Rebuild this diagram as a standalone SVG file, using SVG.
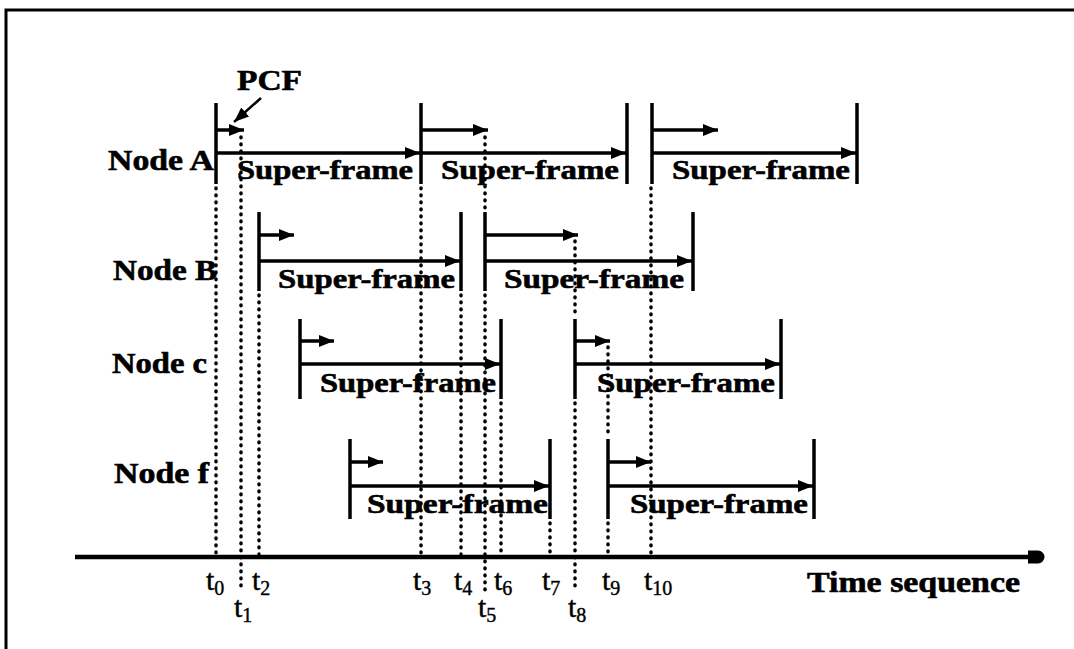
<svg xmlns="http://www.w3.org/2000/svg" width="1074" height="649" viewBox="0 0 1074 649">
<style>
.bg{fill:#fff}
.frame{stroke:#000;stroke-width:3;fill:none}
.bar{stroke:#000;stroke-width:3.5;fill:none}
.arr{stroke:#000;stroke-width:3.5;fill:none;marker-end:url(#ah)}
.dot{stroke:#000;stroke-width:3.5;stroke-linecap:round;stroke-dasharray:0.8 6.2;fill:none}
.lbl{font-family:"Liberation Serif","Times New Roman",serif;font-weight:bold;font-size:29px;fill:#000;stroke:#000;stroke-width:0.6}
.sf{font-family:"Liberation Serif","Times New Roman",serif;font-weight:bold;font-size:28px;fill:#000;stroke:#000;stroke-width:0.6}
.t{font-family:"Liberation Serif","Times New Roman",serif;font-size:30px;fill:#000;stroke:#000;stroke-width:0.4}
.sub{font-size:20px}
</style>
<defs>
<marker id="ah" markerUnits="userSpaceOnUse" markerWidth="15" markerHeight="12" refX="15" refY="6" orient="auto">
<path d="M0,0 L15,6 L0,12 z" fill="#000"/>
</marker>
</defs>
<rect class="bg" x="0" y="0" width="1074" height="649"/>
<g id="border">
<path class="frame" d="M6,649 L6,10 L1074,10"/>
</g>
<g id="connectors">
<line class="dot" x1="216" y1="188" x2="216" y2="554"/>
<line class="dot" x1="241" y1="137" x2="241" y2="588"/>
<line class="dot" x1="259" y1="295" x2="259" y2="554"/>
<line class="dot" x1="421" y1="188" x2="421" y2="554"/>
<line class="dot" x1="461" y1="295" x2="461" y2="554"/>
<line class="dot" x1="485" y1="137" x2="485" y2="209"/>
<line class="dot" x1="485" y1="295" x2="485" y2="590"/>
<line class="dot" x1="501" y1="403" x2="501" y2="554"/>
<line class="dot" x1="550" y1="523" x2="550" y2="554"/>
<line class="dot" x1="575" y1="241" x2="575" y2="315"/>
<line class="dot" x1="575" y1="403" x2="575" y2="590"/>
<line class="dot" x1="608" y1="347" x2="608" y2="435"/>
<line class="dot" x1="608" y1="523" x2="608" y2="554"/>
<line class="dot" x1="651" y1="188" x2="651" y2="554"/>
</g>
<g id="pcf">
<text class="lbl" x="237" y="90" textLength="65" lengthAdjust="spacingAndGlyphs">PCF</text>
<line x1="261" y1="98" x2="234" y2="122" stroke="#000" stroke-width="2.5" marker-end="url(#ah)"/>
</g>
<g id="node-A">
<text class="lbl" x="108" y="170" textLength="106" lengthAdjust="spacingAndGlyphs">Node A</text>
<line class="bar" x1="216" y1="103" x2="216" y2="184"/>
<line class="bar" x1="421" y1="103" x2="421" y2="184"/>
<line class="bar" x1="627" y1="103" x2="627" y2="184"/>
<line class="bar" x1="652" y1="103" x2="652" y2="184"/>
<line class="bar" x1="857" y1="103" x2="857" y2="184"/>
<line class="arr" x1="216" y1="130" x2="244" y2="130"/>
<line class="arr" x1="421" y1="130" x2="488" y2="130"/>
<line class="arr" x1="652" y1="130" x2="718" y2="130"/>
<line class="arr" x1="216" y1="153" x2="420" y2="153"/>
<line class="arr" x1="421" y1="153" x2="626" y2="153"/>
<line class="arr" x1="652" y1="153" x2="856" y2="153"/>
<text class="sf" x="237" y="179" textLength="176" lengthAdjust="spacingAndGlyphs">Super-frame</text>
<text class="sf" x="441" y="179" textLength="178" lengthAdjust="spacingAndGlyphs">Super-frame</text>
<text class="sf" x="672" y="179" textLength="178" lengthAdjust="spacingAndGlyphs">Super-frame</text>
</g>
<g id="node-B">
<text class="lbl" x="113" y="280" textLength="104" lengthAdjust="spacingAndGlyphs">Node B</text>
<line class="bar" x1="259" y1="212" x2="259" y2="291"/>
<line class="bar" x1="461" y1="212" x2="461" y2="291"/>
<line class="bar" x1="485" y1="212" x2="485" y2="291"/>
<line class="bar" x1="693" y1="212" x2="693" y2="291"/>
<line class="arr" x1="259" y1="235" x2="294" y2="235"/>
<line class="arr" x1="485" y1="235" x2="578" y2="235"/>
<line class="arr" x1="259" y1="261" x2="460" y2="261"/>
<line class="arr" x1="485" y1="261" x2="692" y2="261"/>
<text class="sf" x="278" y="288" textLength="177" lengthAdjust="spacingAndGlyphs">Super-frame</text>
<text class="sf" x="504" y="288" textLength="180" lengthAdjust="spacingAndGlyphs">Super-frame</text>
</g>
<g id="node-c">
<text class="lbl" x="112" y="373" textLength="95" lengthAdjust="spacingAndGlyphs">Node c</text>
<line class="bar" x1="300" y1="319" x2="300" y2="399"/>
<line class="bar" x1="501" y1="319" x2="501" y2="399"/>
<line class="bar" x1="575" y1="319" x2="575" y2="399"/>
<line class="bar" x1="781" y1="319" x2="781" y2="399"/>
<line class="arr" x1="300" y1="341" x2="334" y2="341"/>
<line class="arr" x1="575" y1="341" x2="610" y2="341"/>
<line class="arr" x1="300" y1="364" x2="500" y2="364"/>
<line class="arr" x1="575" y1="364" x2="780" y2="364"/>
<text class="sf" x="320" y="392" textLength="176" lengthAdjust="spacingAndGlyphs">Super-frame</text>
<text class="sf" x="597" y="392" textLength="178" lengthAdjust="spacingAndGlyphs">Super-frame</text>
</g>
<g id="node-f">
<text class="lbl" x="114" y="483" textLength="95" lengthAdjust="spacingAndGlyphs">Node f</text>
<line class="bar" x1="350" y1="439" x2="350" y2="519"/>
<line class="bar" x1="550" y1="439" x2="550" y2="519"/>
<line class="bar" x1="608" y1="439" x2="608" y2="519"/>
<line class="bar" x1="814" y1="439" x2="814" y2="519"/>
<line class="arr" x1="350" y1="462" x2="383" y2="462"/>
<line class="arr" x1="608" y1="462" x2="651" y2="462"/>
<line class="arr" x1="350" y1="486" x2="549" y2="486"/>
<line class="arr" x1="608" y1="486" x2="813" y2="486"/>
<text class="sf" x="367" y="513" textLength="181" lengthAdjust="spacingAndGlyphs">Super-frame</text>
<text class="sf" x="630" y="513" textLength="178" lengthAdjust="spacingAndGlyphs">Super-frame</text>
</g>
<g id="axis">
<line x1="75" y1="557" x2="1032" y2="557" stroke="#000" stroke-width="4.5"/>
<path d="M1028,550.5 L1038,550.5 A6.5,6.5 0 0 1 1038,563.5 L1028,563.5 z" fill="#000"/>
<text class="lbl" x="807" y="592" textLength="213" lengthAdjust="spacingAndGlyphs">Time sequence</text>
</g>
<g id="ticks">
<text class="t" x="206" y="590">t<tspan class="sub" dy="5">0</tspan></text>
<text class="t" x="234" y="617">t<tspan class="sub" dy="5">1</tspan></text>
<text class="t" x="252" y="590">t<tspan class="sub" dy="5">2</tspan></text>
<text class="t" x="413" y="590">t<tspan class="sub" dy="5">3</tspan></text>
<text class="t" x="454" y="590">t<tspan class="sub" dy="5">4</tspan></text>
<text class="t" x="478" y="617">t<tspan class="sub" dy="5">5</tspan></text>
<text class="t" x="494" y="590">t<tspan class="sub" dy="5">6</tspan></text>
<text class="t" x="542" y="590">t<tspan class="sub" dy="5">7</tspan></text>
<text class="t" x="568" y="617">t<tspan class="sub" dy="5">8</tspan></text>
<text class="t" x="602" y="590">t<tspan class="sub" dy="5">9</tspan></text>
<text class="t" x="644" y="590">t<tspan class="sub" dy="5">10</tspan></text>
</g>
</svg>
